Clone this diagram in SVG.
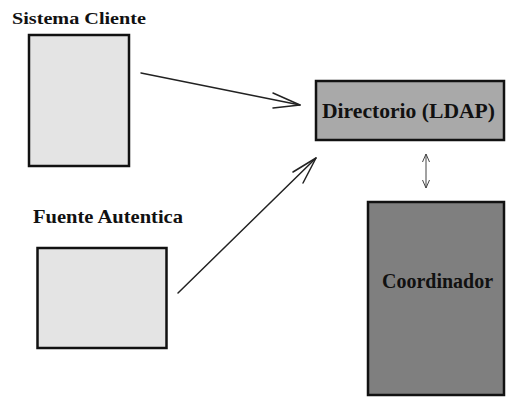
<svg xmlns="http://www.w3.org/2000/svg" width="507" height="398" viewBox="0 0 507 398">
  <style>
    .box { stroke: #111; stroke-width: 2.5; }
    .light { fill: #e4e4e4; }
    .mid { fill: #a9a9a9; }
    .dark { fill: #7f7f7f; }
    .label { font-family: "Liberation Serif", "Times New Roman", serif; font-weight: bold; fill: #111; }
    .conn { stroke: #222; stroke-width: 1.5; fill: none; stroke-linecap: round; stroke-linejoin: round; }
    .thin { stroke: #444; stroke-width: 1; fill: none; }
  </style>
  <defs>
    <marker id="tip" viewBox="0 0 10 10" refX="10" refY="5" markerWidth="10" markerHeight="10" markerUnits="userSpaceOnUse" orient="auto-start-reverse">
      <path d="M2,1.5 L10,5 L2,8.5" fill="none" stroke="#444" stroke-width="1"/>
    </marker>
  </defs>
  <rect width="507" height="398" fill="#fff"/>

  <g id="sistema-cliente">
    <text class="label" x="12" y="24" font-size="17.5" textLength="134" lengthAdjust="spacingAndGlyphs">Sistema Cliente</text>
    <rect class="box light" x="29" y="35" width="100" height="131"/>
  </g>

  <g id="fuente-autentica">
    <text class="label" x="33" y="223" font-size="19" textLength="150" lengthAdjust="spacingAndGlyphs">Fuente Autentica</text>
    <rect class="box light" x="37.5" y="248" width="129" height="100"/>
  </g>

  <g id="directorio">
    <rect class="box mid" x="316" y="81" width="188" height="59"/>
    <text class="label" x="322" y="118" font-size="21" textLength="173" lengthAdjust="spacingAndGlyphs">Directorio (LDAP)</text>
  </g>

  <g id="coordinador">
    <rect class="box dark" x="368" y="202" width="136" height="193"/>
    <text class="label" x="382" y="288" font-size="20" textLength="111" lengthAdjust="spacingAndGlyphs">Coordinador</text>
  </g>

  <g id="connectors">
    <!-- Sistema Cliente to Directorio -->
    <line class="conn" x1="141" y1="73" x2="300" y2="105"/>
    <polyline class="conn" points="273,93 300,105 273,108"/>
    <!-- Fuente Autentica to Directorio -->
    <line class="conn" x1="178" y1="293" x2="316" y2="158"/>
    <polyline class="conn" points="293,172 316,158 303,183"/>
    <!-- Directorio <-> Coordinador -->
    <line class="thin" x1="426" y1="154" x2="426" y2="188" marker-start="url(#tip)" marker-end="url(#tip)"/>
  </g>
</svg>
